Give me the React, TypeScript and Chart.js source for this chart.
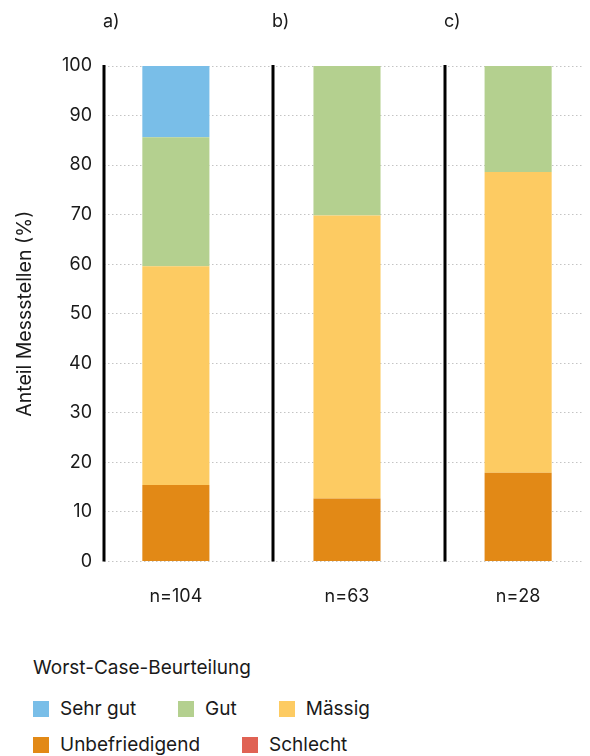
import React, { useEffect, useRef } from "react";
import { Chart, registerables } from "chart.js";

Chart.register(...registerables);

const panels = ["a)", "b)", "c)"];
const categories = ["n=104", "n=63", "n=28"];
const sehrGut = [14.4, 0, 0];
const gut = [26.0, 30.2, 21.4];
const maessig = [44.2, 57.1, 60.7];
const unbefriedigend = [15.4, 12.7, 17.9];
const schlecht = [0, 0, 0];
const yTickStep = 10;
const legendTitle = "Worst-Case-Beurteilung";
const yTitle = "Anteil Messstellen (%)";

const seriesDefs = [
  { label: "Sehr gut", data: sehrGut, color: "#79bee8" },
  { label: "Gut", data: gut, color: "#b4d08f" },
  { label: "Mässig", data: maessig, color: "#fdcb62" },
  { label: "Unbefriedigend", data: unbefriedigend, color: "#e28916" },
  { label: "Schlecht", data: schlecht, color: "#e06254" },
];

const FONT = "Inter, 'Noto Sans', sans-serif";
const TEXT = "#1a1a1a";
const X_MIN = -0.42;
const X_MAX = 2.42;
const SEP_OFFSET = 0.43;

const panelPlugin = {
  id: "panelSeparators",
  afterDatasetsDraw(chart: any) {
    const { ctx, chartArea, scales } = chart;
    const xs = scales.x;
    ctx.save();
    panels.forEach((p, i) => {
      const x = Math.round(xs.getPixelForValue(i - (i === 0 ? -X_MIN : SEP_OFFSET)));
      ctx.strokeStyle = "#000";
      ctx.lineWidth = 3;
      ctx.beginPath();
      ctx.moveTo(x, chartArea.top - 1);
      ctx.lineTo(x, chartArea.bottom);
      ctx.stroke();
      ctx.fillStyle = TEXT;
      ctx.font = "18px " + FONT;
      ctx.textAlign = "left";
      ctx.textBaseline = "middle";
      ctx.fillText(p, x - 1, chartArea.top - 44);
    });
    ctx.restore();
  },
};

export default function App() {
  const ref = useRef<HTMLCanvasElement | null>(null);

  useEffect(() => {
    if (!ref.current) return;
    const datasets = seriesDefs
      .slice()
      .reverse()
      .map((s) => ({
        label: s.label,
        data: s.data.map((v, i) => ({ x: i, y: v })),
        backgroundColor: s.color,
        borderWidth: 0,
        stack: "s",
        barPercentage: 0.392,
        categoryPercentage: 1,
      }));
    const chart = new Chart(ref.current, {
      type: "bar",
      data: { datasets },
      options: {
        animation: false,
        responsive: false,
        maintainAspectRatio: false,
        layout: { padding: { top: 58, bottom: 3, left: 0, right: 0 } },
        plugins: { legend: { display: false }, tooltip: { enabled: false } },
        scales: {
          x: {
            type: "linear",
            stacked: true,
            offset: false,
            min: X_MIN,
            max: X_MAX,
            grid: { display: false },
            border: { display: false },
            afterBuildTicks: (scale: any) => {
              scale.ticks = categories.map((_, i) => ({ value: i }));
            },
            ticks: {
              autoSkip: false,
              maxRotation: 0,
              padding: 16,
              color: TEXT,
              font: { family: FONT, size: 18 },
              callback: (v: any) => categories[Math.round(Number(v))] ?? "",
            },
          },
          y: {
            stacked: true,
            min: 0,
            max: 100,
            afterFit: (scale: any) => {
              scale.width = 96;
            },
            ticks: {
              stepSize: yTickStep,
              padding: 12,
              color: TEXT,
              font: { family: FONT, size: 18 },
            },
            grid: { color: "#c4c4c4", lineWidth: 1, drawTicks: false },
            border: { display: false, dash: [1.5, 2.5] },
            title: {
              display: true,
              text: yTitle,
              color: TEXT,
              font: { family: FONT, size: 19.5 },
              padding: { top: 5, bottom: 0 },
            },
          },
        },
      },
      plugins: [panelPlugin],
    } as any);
    return () => chart.destroy();
  }, []);

  return (
    <div style={{ position: "relative", width: 582, height: 748, overflow: "hidden", fontFamily: FONT, color: TEXT }}>
      <canvas ref={ref} width={582} height={618} style={{ display: "block", width: 582, height: 618 }} />
      <div style={{ position: "absolute", left: 25, top: 650, width: 400 }}>
        <div style={{ fontSize: 19, lineHeight: "20px", height: 20 }}>{legendTitle}</div>
        <div style={{ display: "flex", flexWrap: "wrap", columnGap: 42, rowGap: 16, marginTop: 21 }}>
          {seriesDefs.map((s) => (
            <div key={s.label} style={{ display: "flex", alignItems: "center", height: 20 }}>
              <span style={{ display: "inline-block", width: 16, height: 16, background: s.color, marginRight: 11 }} />
              <span style={{ fontSize: 19, lineHeight: "20px" }}>{s.label}</span>
            </div>
          ))}
        </div>
      </div>
    </div>
  );
}
